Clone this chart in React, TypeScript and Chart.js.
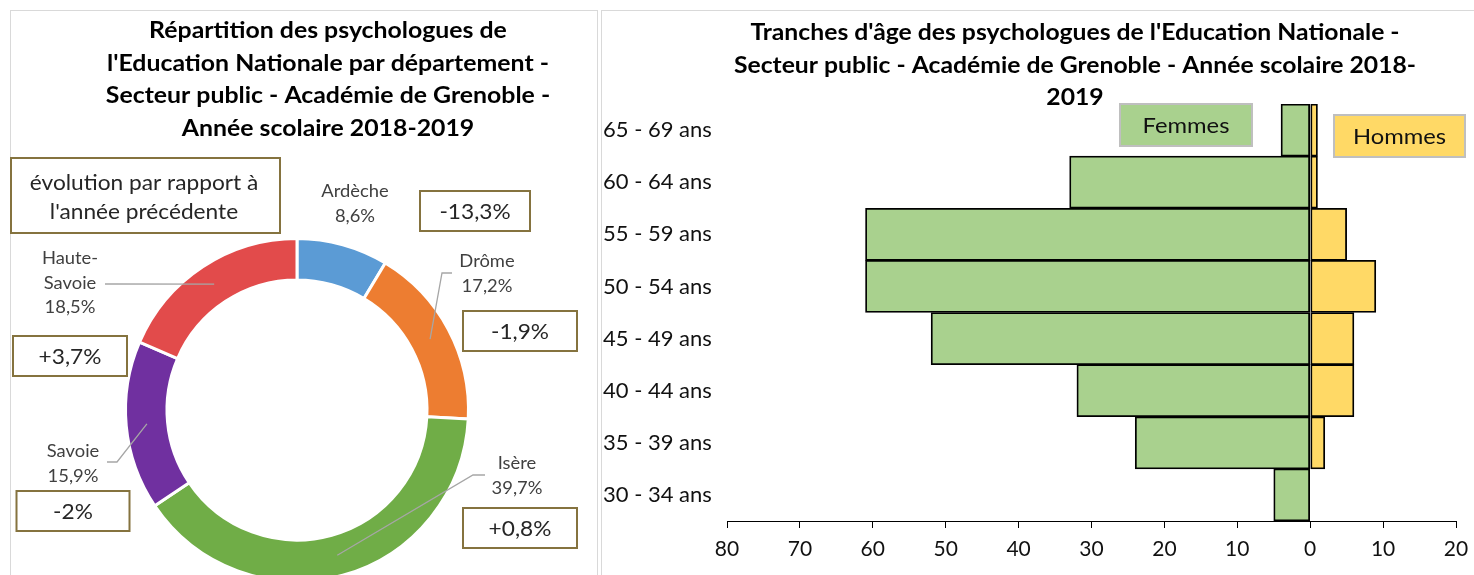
import { useEffect, useRef } from 'react';
import { Chart, registerables } from 'chart.js';

Chart.register(...registerables);

// ---------- Data ----------
const departements = ['Ardèche', 'Drôme', 'Isère', 'Savoie', 'Haute-Savoie'];
const parts = [8.6, 17.2, 39.7, 15.9, 18.5];
const evolutions = [-13.3, -1.9, 0.8, -2, 3.7];
const departementColors = ['#5B9BD5', '#ED7D31', '#70AD47', '#7030A0', '#E24B4B'];

const ageGroups = ['65 - 69 ans', '60 - 64 ans', '55 - 59 ans', '50 - 54 ans', '45 - 49 ans', '40 - 44 ans', '35 - 39 ans', '30 - 34 ans'];
const femmes = [4, 33, 61, 61, 52, 32, 24, 5];
const hommes = [1, 1, 5, 9, 6, 6, 2, 0];

const leftTitle = [
  'Répartition des psychologues de',
  "l'Education Nationale par département -",
  'Secteur public - Académie de Grenoble -',
  'Année scolaire 2018-2019',
];
const rightTitle = [
  "Tranches d'âge des psychologues de l'Education Nationale -",
  'Secteur public - Académie de Grenoble - Année scolaire 2018-',
  '2019',
];
const noteLines = ['évolution par rapport à', "l'année précédente"];

// ---------- Layout (annotation placement, relative to doughnut centre) ----------
const FONT = 'Lato, "Open Sans", sans-serif';
const SX = 1.08; // horizontal text stretch of the original rendering
const labelLayout = [
  { label: [58, -218], box: [178, -199, 110], leader: null as null | number[] },
  { label: [190, -148], box: [223, -79, 114], leader: [155, -137, -10] },
  { label: [220, 54], box: [223, 118, 114], leader: [188, 65, -12] },
  { label: [-224, 42], box: [-224, 101, 113], leader: [-190, 52, 10] },
  { label: [-227, -151], box: [-227, -54, 114], leader: [-192, -126, 8] },
];

const fmtPart = (v: number) => v.toFixed(1).replace('.', ',') + '%';
const fmtEvol = (v: number) => (v > 0 ? '+' : '') + String(v).replace('.', ',') + '%';
const splitName = (n: string) => n.replace('-', '-\n').split('\n');

function text(ctx: CanvasRenderingContext2D, t: string, x: number, y: number, sx = SX) {
  ctx.save();
  ctx.translate(x, y);
  ctx.scale(sx, 1);
  ctx.fillText(t, 0, 0);
  ctx.restore();
}

const doughnutAnnotations = {
  id: 'doughnutAnnotations',
  beforeDraw(chart: any) {
    const ctx = chart.ctx;
    ctx.save();
    ctx.strokeStyle = '#D9D9D9';
    ctx.lineWidth = 1;
    ctx.strokeRect(10.5, 10.5, 587, 620);
    ctx.restore();
  },
  afterDraw(chart: any) {
    const ctx = chart.ctx;
    const meta = chart.getDatasetMeta(0);
    const first = meta.data[0];
    const cx = first.x;
    const cy = first.y;
    ctx.save();
    // title
    ctx.fillStyle = '#000';
    ctx.font = `bold 23px ${FONT}`;
    ctx.textAlign = 'center';
    ctx.textBaseline = 'middle';
    leftTitle.forEach((t, i) => text(ctx, t, 328, 31 + i * 32.5));

    // note box
    ctx.fillStyle = '#fff';
    ctx.fillRect(10, 157, 270, 76);
    ctx.strokeStyle = '#85733F';
    ctx.lineWidth = 2;
    ctx.strokeRect(11, 158, 269, 75);
    ctx.fillStyle = '#262626';
    ctx.font = `21px ${FONT}`;
    noteLines.forEach((t, i) => text(ctx, t, 144, 183 + i * 29));

    meta.data.forEach((arc: any, i: number) => {
      const p = arc.getProps(['startAngle', 'endAngle', 'innerRadius', 'outerRadius'], true);
      const mid = (p.startAngle + p.endAngle) / 2;
      const rm = (p.innerRadius + p.outerRadius) / 2;
      const px = cx + Math.cos(mid) * rm;
      const py = cy + Math.sin(mid) * rm;
      const L = labelLayout[i];
      if (L.leader) {
        ctx.strokeStyle = '#A6A6A6';
        ctx.lineWidth = 1.3;
        ctx.beginPath();
        ctx.moveTo(cx + L.leader[0], cy + L.leader[1]);
        ctx.lineTo(cx + L.leader[0] + L.leader[2], cy + L.leader[1]);
        ctx.lineTo(px, py);
        ctx.stroke();
      }
      const lines = [...splitName(departements[i]), fmtPart(parts[i])];
      ctx.fillStyle = '#404040';
      ctx.font = `17px ${FONT}`;
      lines.forEach((t, j) => text(ctx, t, cx + L.label[0], cy + L.label[1] + j * 24.5));

      const bx = cx + L.box[0];
      const by = cy + L.box[1];
      const bw = L.box[2];
      const bh = 40;
      ctx.fillStyle = '#fff';
      ctx.fillRect(bx - bw / 2, by - bh / 2, bw, bh);
      ctx.strokeStyle = '#85733F';
      ctx.lineWidth = 2;
      ctx.strokeRect(bx - bw / 2, by - bh / 2, bw, bh);
      ctx.fillStyle = '#262626';
      ctx.font = `21px ${FONT}`;
      text(ctx, fmtEvol(evolutions[i]), bx, by + 1);
    });
    ctx.restore();
  },
};

const pyramidAnnotations = {
  id: 'pyramidAnnotations',
  beforeDraw(chart: any) {
    const ctx = chart.ctx;
    ctx.save();
    ctx.strokeStyle = '#D9D9D9';
    ctx.lineWidth = 1;
    ctx.strokeRect(1.5, 10.5, 900, 620);
    ctx.restore();
  },
  afterDraw(chart: any) {
    const ctx = chart.ctx;
    ctx.save();
    ctx.fillStyle = '#000';
    ctx.font = `bold 23px ${FONT}`;
    ctx.textAlign = 'center';
    ctx.textBaseline = 'middle';
    rightTitle.forEach((t, i) => text(ctx, t, 475, 33 + i * 32.5, 1.075));

    const boxes = [
      { x: 520, y: 104, w: 132, h: 42 },
      { x: 734, y: 115, w: 131, h: 42 },
    ];
    chart.data.datasets.forEach((ds: any, i: number) => {
      const b = boxes[i];
      ctx.fillStyle = ds.backgroundColor;
      ctx.fillRect(b.x, b.y, b.w, b.h);
      ctx.strokeStyle = '#BFBFBF';
      ctx.lineWidth = 2;
      ctx.strokeRect(b.x, b.y, b.w, b.h);
      ctx.fillStyle = '#111';
      ctx.font = `22px ${FONT}`;
      text(ctx, ds.label, b.x + b.w / 2, b.y + b.h / 2 + 1);
    });
    ctx.restore();
  },
};

function Doughnut() {
  const ref = useRef<HTMLCanvasElement>(null);
  useEffect(() => {
    const chart = new Chart(ref.current as HTMLCanvasElement, {
      type: 'doughnut',
      data: {
        labels: departements,
        datasets: [
          {
            data: parts,
            backgroundColor: departementColors,
            borderColor: '#fff',
            borderWidth: 3,
          },
        ],
      },
      options: {
        responsive: false,
        animation: false,
        radius: 171.5,
        cutout: 128.5,
        layout: { padding: { left: 126, right: 132, top: 239, bottom: 19 } },
        plugins: { legend: { display: false }, tooltip: { enabled: false }, title: { display: false } },
      } as any,
      plugins: [doughnutAnnotations],
    });
    return () => chart.destroy();
  }, []);
  return <canvas ref={ref} width={600} height={600} style={{ position: 'absolute', left: 0, top: 0 }} />;
}

function Pyramid() {
  const ref = useRef<HTMLCanvasElement>(null);
  useEffect(() => {
    const chart = new Chart(ref.current as HTMLCanvasElement, {
      type: 'bar',
      data: {
        labels: ageGroups,
        datasets: [
          {
            label: 'Femmes',
            data: femmes.map((v) => -v),
            backgroundColor: '#A9D18E',
            borderColor: '#000',
            borderWidth: 1.8,
            borderSkipped: false,
            barPercentage: 1,
            categoryPercentage: 1,
          },
          {
            label: 'Hommes',
            data: hommes,
            backgroundColor: '#FFD966',
            borderColor: '#000',
            borderWidth: 1.8,
            borderSkipped: false,
            barPercentage: 1,
            categoryPercentage: 1,
          },
        ],
      },
      options: {
        indexAxis: 'y',
        responsive: false,
        animation: false,
        layout: { padding: { left: 3, right: 18, top: 104, bottom: 0 } },
        plugins: { legend: { display: false }, tooltip: { enabled: false }, title: { display: false } },
        scales: {
          x: {
            stacked: true,
            min: -80,
            max: 20,
            afterFit: (s: any) => {
              s.height = 54;
              s.paddingLeft = 0;
              s.paddingRight = 0;
            },
            ticks: {
              stepSize: 10,
              autoSkip: false,
              maxRotation: 0,
              padding: 9,
              color: '#111',
              font: { family: FONT, size: 21 },
              callback: (v: any) => String(Math.abs(Number(v))),
            },
            grid: { drawOnChartArea: false, drawTicks: true, tickLength: 7, color: '#000', tickColor: '#000' },
            border: { display: true, color: '#000', width: 1 },
          },
          y: {
            stacked: true,
            afterFit: (s: any) => { s.width = 124; },
            ticks: {
              crossAlign: 'far',
              color: '#111',
              font: { family: FONT, size: 22 },
            },
            grid: { display: false },
            border: { display: false },
          },
        },
      } as any,
      plugins: [pyramidAnnotations],
    });
    return () => chart.destroy();
  }, []);
  return <canvas ref={ref} width={874} height={575} style={{ position: 'absolute', left: 600, top: 0 }} />;
}

export default function App() {
  return (
    <div style={{ position: 'absolute', left: 0, top: 0, width: 1474, height: 575, overflow: 'hidden', background: '#fff' }}>
      <Doughnut />
      <Pyramid />
    </div>
  );
}
